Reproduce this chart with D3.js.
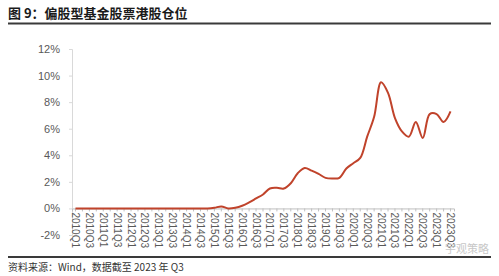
<!DOCTYPE html>
<html>
<head>
<meta charset="utf-8">
<script src="https://cdn.jsdelivr.net/npm/d3@7"></script>
<style>
  body { margin: 0; background: #fff; }
  svg text { font-family: "Liberation Sans", Arial, sans-serif; }
  .cjk { font-family: "Noto Sans CJK SC", sans-serif; }
</style>
</head>
<body>
<svg id="chart" width="499" height="276"></svg>
<script>
// 季度 2010Q1 - 2023Q3
const years = d3.range(2010, 2024)
const quarters = []
years.forEach(y => [1, 2, 3, 4].forEach(q => {
  if (y < 2023 || q <= 3) quarters.push(y + "Q" + q)
}))

// 港股仓位 (%)
const share = [
  0, 0, 0, 0,  0, 0, 0, 0,  0, 0, 0, 0,  0, 0, 0, 0,  0, 0, 0, 0,   // 2010-2014
  0.05, 0.15, 0.0, 0.05,          // 2015
  0.2, 0.45, 0.75, 1.05,          // 2016
  1.5, 1.55, 1.5, 1.9,            // 2017
  2.65, 3.05, 2.85, 2.6,          // 2018
  2.3, 2.25, 2.3, 3.0,            // 2019
  3.4, 3.8, 5.4, 6.9,             // 2020
  9.5, 8.7, 6.8, 5.8,             // 2021
  5.4, 6.5, 5.3, 7.1,             // 2022
  7.1, 6.5, 7.3                   // 2023
]

const yTicks = [-2, 0, 2, 4, 6, 8, 10, 12]

const svg = d3.select("#chart")

// 标题
svg.append("text")
  .attr("class", "cjk")
  .attr("x", 8).attr("y", 18)
  .attr("font-size", "13px").attr("font-weight", "bold")
  .attr("fill", "#1a1a1a")
  .text("图 9：偏股型基金股票港股仓位")

svg.append("line")
  .attr("x1", 8).attr("x2", 491).attr("y1", 23.5).attr("y2", 23.5)
  .attr("stroke", "#3a3a3a").attr("stroke-width", 2)

svg.append("line")
  .attr("x1", 8).attr("x2", 491).attr("y1", 257).attr("y2", 257)
  .attr("stroke", "#3a3a3a").attr("stroke-width", 2)

svg.append("text")
  .attr("class", "cjk")
  .attr("x", 8).attr("y", 271)
  .attr("font-size", "10px")
  .attr("fill", "#333")
  .text("资料来源：Wind，数据截至 2023 年 Q3")

// 比例尺
const x = d3.scaleBand()
  .domain(quarters)
  .range([72, 454])

const y = d3.scaleLinear()
  .domain([-2, 12])
  .range([235, 49])

// Y 轴
const axisLeft = d3.axisLeft(y)
  .tickValues(yTicks)
  .tickFormat(d => d + "%")
  .tickSize(3)
  .tickPadding(9)

const gy = svg.append("g")
  .attr("transform", "translate(72,0)")
  .call(axisLeft)
gy.select(".domain").attr("stroke", "#d9d9d9")
gy.selectAll(".tick line").attr("stroke", "#d9d9d9")
gy.selectAll("text")
  .attr("font-size", "11px")
  .attr("fill", "#595959")
  .attr("font-family", "Liberation Sans, Arial, sans-serif")

// X 轴 在 0% 处
const axisBottom = d3.axisBottom(x)
  .tickValues(quarters)
  .tickSize(3)
  .tickFormat((d, i) => i % 2 === 0 ? d : "")

const gx = svg.append("g")
  .attr("transform", "translate(0," + y(0) + ")")
  .call(axisBottom)
gx.select(".domain").attr("stroke", "#bfbfbf")
gx.selectAll(".tick line").attr("stroke", "#bfbfbf")
gx.selectAll("text")
  .attr("font-size", "10px")
  .attr("fill", "#595959")
  .attr("font-family", "Liberation Sans, Arial, sans-serif")
  .attr("text-anchor", "start")
  .attr("dy", null)
  .attr("y", 0)
  .attr("transform", "translate(0,4) rotate(90)")
  .attr("dominant-baseline", "central")

// 折线
const line = d3.line()
  .x((d, i) => x(quarters[i]) + x.bandwidth() / 2)
  .y(d => y(d))
  .curve(d3.curveCatmullRom.alpha(0.5))

svg.append("path")
  .datum(share)
  .attr("fill", "none")
  .attr("stroke", "#c0432b")
  .attr("stroke-width", 2)
  .attr("d", line)

// 水印
svg.append("text")
  .attr("class", "cjk")
  .attr("x", 445).attr("y", 253)
  .attr("font-size", "11px")
  .attr("fill", "#c8c8c8")
  .text("宇观策略")
</script>
</body>
</html>
